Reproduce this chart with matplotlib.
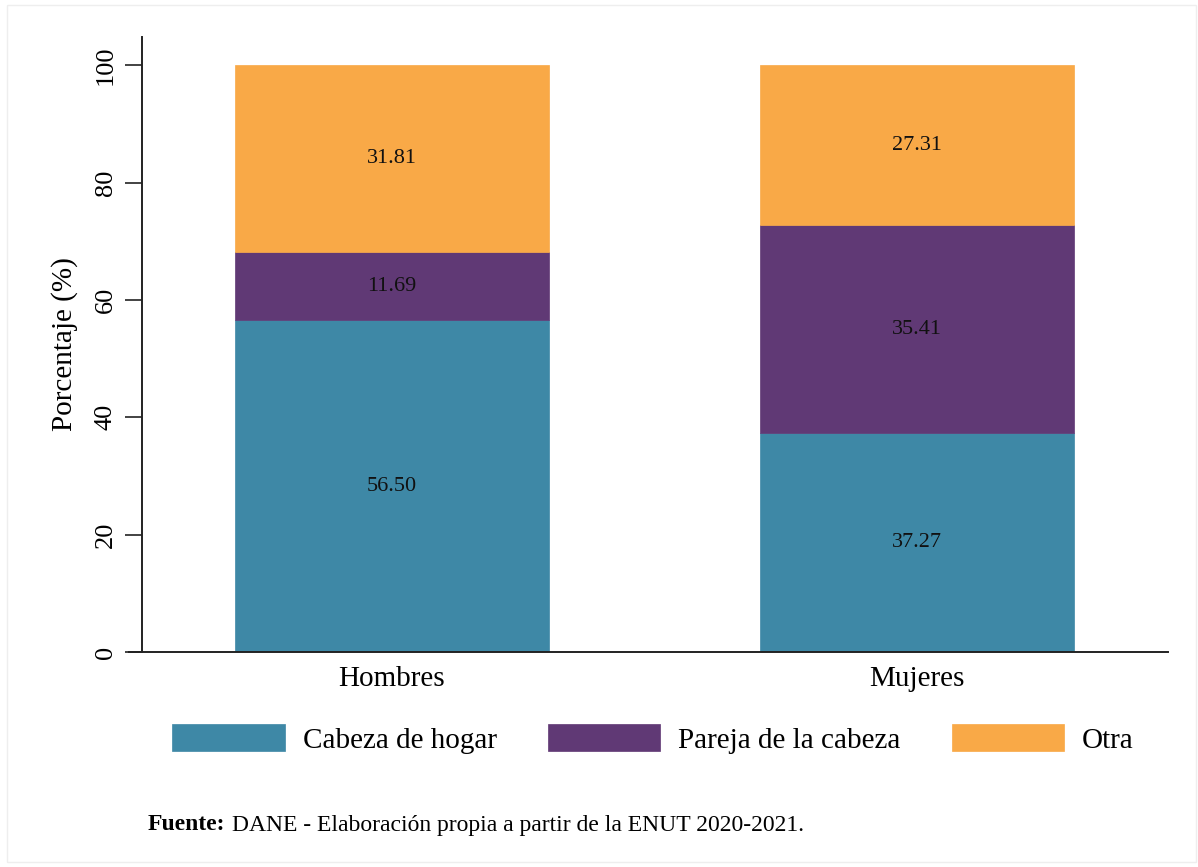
import matplotlib.pyplot as plt
import matplotlib.patches as mpatches
import numpy as np

plt.rcParams['font.family'] = ['Liberation Serif', 'DejaVu Serif']

groups = ["Hombres", "Mujeres"]
series = ["Cabeza de hogar", "Pareja de la cabeza", "Otra"]
cabeza = [56.50, 37.27]
pareja = [11.69, 35.41]
otra = [31.81, 27.31]
colors = ["#3e88a6", "#603975", "#f9a947"]
yticks = [0, 20, 40, 60, 80, 100]

fig = plt.figure(figsize=(11.98, 8.67), dpi=100)
ax = fig.add_axes([142/1198, 1 - 652/867, (1168-142)/1198, (652-37)/867])

# faint outer frame
fig.patches.append(mpatches.Rectangle((7/1198, 1 - 862/867), 1189/1198, 857/867,
                                      transform=fig.transFigure, fill=False,
                                      edgecolor="#eeeeee", linewidth=1))

x = np.arange(len(groups))
width = 0.598
bottom = np.zeros(len(groups))
for name, vals, c in zip(series, [cabeza, pareja, otra], colors):
    vals = np.array(vals)
    ax.bar(x, vals, width, bottom=bottom, color=c, label=name,
           edgecolor=c, linewidth=0.5)
    for xi, b, v in zip(x, bottom, vals):
        ax.text(xi, b + v / 2, f"{v:.2f}", ha="center", va="center",
                fontsize=16, color="#111111")
    bottom += vals

ax.set_xlim(-0.476, 1.478)
ax.set_ylim(0, 104.8)
ax.set_xticks(x)
ax.set_xticklabels(groups, fontsize=21)
ax.tick_params(axis="x", length=0, pad=10)
ax.set_yticks(yticks)
ax.set_yticklabels([str(t) for t in yticks], fontsize=19, rotation=90, va="center")
ax.tick_params(axis="y", length=12, width=1.2, pad=6, color="#222222")
ax.set_ylabel("Porcentaje (%)", fontsize=21, labelpad=12)

for s in ["top", "right"]:
    ax.spines[s].set_visible(False)
ax.spines["left"].set_linewidth(1.4)
ax.spines["bottom"].set_linewidth(1.4)
ax.spines["left"].set_color("#222222")
ax.spines["bottom"].set_color("#222222")
ax.spines["bottom"].set_bounds(-0.5, 1.478)

leg = fig.legend(loc="center", bbox_to_anchor=(653/1198, 1 - 739/867), ncol=3,
                 frameon=False, fontsize=21, handlelength=3.85, handleheight=1.05,
                 handletextpad=0.62, columnspacing=1.75)

fig.canvas.draw()
t1 = fig.text(148/1198, 1 - 825/867, "Fuente:", fontsize=17, fontweight="bold",
              va="center", ha="left")
r = fig.canvas.get_renderer()
bb = t1.get_window_extent(r)
fig.text((bb.x1 + 6) / 1198, 1 - 825/867,
         "DANE - Elaboración propia a partir de la ENUT 2020-2021.",
         fontsize=17, va="center", ha="left")

fig.savefig("out.png", dpi=100)
